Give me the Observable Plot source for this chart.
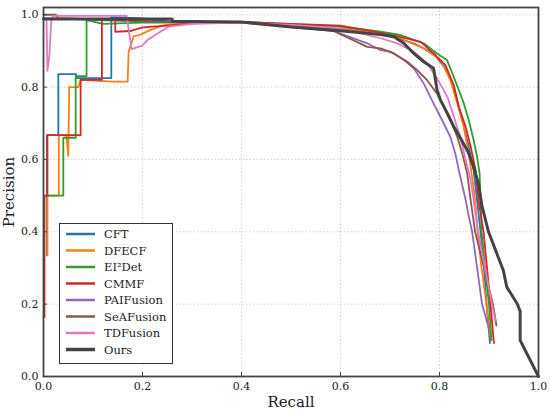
<!DOCTYPE html>
<html>
<head>
<meta charset="utf-8">
<script src="https://cdn.jsdelivr.net/npm/d3@7"></script>
<script src="https://cdn.jsdelivr.net/npm/@observablehq/plot@0.6"></script>
<style>
  html, body { margin: 0; padding: 0; background: #fff; }
</style>
</head>
<body>
<div id="chart"></div>
<script>
const seriesNames = ["CFT", "DFECF", "EI²Det", "CMMF", "PAIFusion", "SeAFusion", "TDFusion", "Ours"];
const seriesColors = ["#1f77b4", "#ff7f0e", "#2ca02c", "#d62728", "#9467bd", "#8c564b", "#e377c2", "#444444"];
const xTicks = [0, 0.2, 0.4, 0.6, 0.8, 1.0];
const yTicks = [0, 0.2, 0.4, 0.6, 0.8, 1.0];

const cftR = [0.007,0.007,0.03,0.03,0.066,0.067,0.137,0.137,0.2,0.25,0.32,0.4,0.5,0.6,0.68,0.748,0.788,0.815,0.832,0.846,0.859,0.869,0.876,0.883,0.89,0.895,0.902];
const cftP = [0.335,0.667,0.667,0.836,0.836,0.825,0.825,0.993,0.99,0.982,0.978,0.98,0.972,0.962,0.949,0.921,0.893,0.847,0.782,0.709,0.635,0.570,0.487,0.4,0.3,0.2,0.092];

const dfecfR = [0.008,0.008,0.031,0.031,0.046,0.05,0.052,0.07,0.075,0.14,0.17,0.172,0.182,0.196,0.216,0.243,0.32,0.4,0.5,0.6,0.681,0.721,0.768,0.802,0.822,0.836,0.849,0.859,0.866,0.872,0.877,0.885,0.895,0.904];
const dfecfP = [0.335,0.5,0.5,0.667,0.667,0.61,0.80,0.80,0.82,0.815,0.815,0.898,0.94,0.945,0.958,0.971,0.978,0.98,0.972,0.965,0.949,0.935,0.907,0.875,0.819,0.755,0.690,0.616,0.55,0.487,0.4,0.3,0.2,0.1];

const ei2detR = [0.004,0.04,0.04,0.065,0.065,0.072,0.072,0.087,0.087,0.12,0.2,0.3,0.4,0.5,0.6,0.681,0.721,0.768,0.795,0.815,0.826,0.839,0.849,0.859,0.869,0.876,0.881,0.883,0.885,0.892,0.9,0.905];
const ei2detP = [0.5,0.5,0.66,0.66,0.83,0.83,0.83,0.83,0.985,0.975,0.978,0.978,0.98,0.974,0.968,0.953,0.944,0.921,0.893,0.875,0.838,0.792,0.755,0.709,0.653,0.607,0.561,0.487,0.4,0.3,0.2,0.1];

const cmmfR = [0.002,0.002,0.008,0.008,0.075,0.075,0.118,0.118,0.145,0.145,0.175,0.2,0.25,0.3,0.4,0.5,0.6,0.681,0.721,0.762,0.788,0.812,0.829,0.839,0.853,0.863,0.873,0.879,0.889,0.896,0.903,0.91];
const cmmfP = [0.164,0.5,0.5,0.667,0.667,0.82,0.82,0.985,0.985,0.953,0.955,0.965,0.97,0.976,0.98,0.975,0.97,0.950,0.939,0.925,0.893,0.861,0.805,0.745,0.690,0.635,0.570,0.487,0.4,0.3,0.2,0.092];

const paiR = [0,0.05,0.1,0.2,0.3,0.4,0.5,0.586,0.6,0.654,0.681,0.701,0.728,0.748,0.768,0.788,0.805,0.822,0.832,0.842,0.853,0.858,0.866,0.876,0.886,0.9];
const paiP = [0.99,0.99,0.985,0.982,0.978,0.978,0.966,0.955,0.948,0.921,0.902,0.898,0.875,0.852,0.810,0.755,0.709,0.662,0.616,0.552,0.487,0.45,0.4,0.3,0.2,0.132];

const seaR = [0,0.025,0.03,0.1,0.2,0.3,0.4,0.5,0.586,0.6,0.654,0.681,0.708,0.735,0.755,0.775,0.795,0.809,0.822,0.836,0.846,0.856,0.863,0.872,0.89,0.908,0.915];
const seaP = [1.0,1.0,0.99,0.988,0.982,0.978,0.978,0.97,0.955,0.946,0.911,0.907,0.893,0.870,0.847,0.819,0.782,0.745,0.709,0.662,0.616,0.561,0.487,0.4,0.3,0.2,0.141];

const tdR = [0,0.006,0.008,0.012,0.016,0.02,0.168,0.178,0.2,0.21,0.236,0.253,0.3,0.4,0.5,0.6,0.681,0.715,0.748,0.775,0.795,0.816,0.829,0.842,0.853,0.863,0.869,0.878,0.892,0.906,0.913];
const tdP = [0.99,0.99,0.845,0.89,0.99,0.997,0.997,0.905,0.915,0.93,0.953,0.967,0.975,0.978,0.972,0.962,0.935,0.921,0.898,0.866,0.824,0.773,0.718,0.662,0.598,0.542,0.487,0.4,0.3,0.2,0.155];

const oursR = [0,0.26,0.26,0.4,0.5,0.6,0.681,0.708,0.728,0.748,0.768,0.788,0.792,0.795,0.802,0.816,0.829,0.842,0.858,0.87,0.879,0.886,0.899,0.913,0.929,0.936,0.957,0.963,0.963,1.0];
const oursP = [0.988,0.988,0.982,0.98,0.966,0.956,0.945,0.939,0.921,0.893,0.870,0.852,0.819,0.792,0.764,0.727,0.690,0.66,0.62,0.575,0.53,0.47,0.4,0.35,0.293,0.247,0.201,0.18,0.10,0.0];

const seriesR = [cftR, dfecfR, ei2detR, cmmfR, paiR, seaR, tdR, oursR];
const seriesP = [cftP, dfecfP, ei2detP, cmmfP, paiP, seaP, tdP, oursP];

const tables = seriesNames.map((name, i) =>
  seriesR[i].map((r, j) => ({series: name, recall: r, precision: seriesP[i][j]}))
);

const lineMarks = tables.map((t, i) =>
  Plot.line(t, {
    x: "recall", y: "precision", stroke: "series",
    strokeWidth: seriesNames[i] === "Ours" ? 3 : 1.8,
    strokeLinejoin: "round"
  })
);

const plot = Plot.plot({
  width: 550,
  height: 412,
  marginLeft: 43,
  marginRight: 12,
  marginTop: 7,
  marginBottom: 36,
  style: {fontFamily: "'DejaVu Serif', serif", fontSize: "11px", background: "#fff", color: "#222"},
  x: {domain: [0, 1]},
  y: {domain: [0, 1.02]},
  color: {domain: seriesNames, range: seriesColors},
  marks: [
    Plot.gridX(xTicks, {stroke: "#b8b8b8", strokeOpacity: 0.8, strokeDasharray: "1.5,2", strokeWidth: 0.8}),
    Plot.gridY(yTicks, {stroke: "#b8b8b8", strokeOpacity: 0.8, strokeDasharray: "1.5,2", strokeWidth: 0.8}),
    ...lineMarks,
    Plot.frame({stroke: "#444", strokeWidth: 1.8}),
    Plot.axisX(xTicks, {tickSize: -4, tickPadding: 9.5, tickFormat: d3.format(".1f"), label: null, stroke: "#444", fill: "#222"}),
    Plot.axisY(yTicks, {tickSize: -4, tickPadding: 9, tickFormat: d3.format(".1f"), label: null, stroke: "#444", fill: "#222"}),
    Plot.text(["Recall"], {text: d => d, frameAnchor: "bottom", dy: 30, fontSize: 15, fill: "#222"}),
    Plot.text(["Precision"], {text: d => d, frameAnchor: "left", textAnchor: "middle", dx: -34, rotate: -90, fontSize: 15, fill: "#222"})
  ]
});

// legend inside the plot area (bottom-left)
const svg = d3.select(plot);
const lg = svg.append("g")
  .attr("font-family", "'DejaVu Serif', serif")
  .attr("font-size", "11.5px")
  .attr("text-anchor", "start");
lg.append("rect").attr("x", 59.5).attr("y", 223.5).attr("width", 113).attr("height", 140)
  .attr("fill", "#fff").attr("fill-opacity", 0.85).attr("stroke", "#333").attr("stroke-width", 1);
seriesNames.forEach((name, i) => {
  const yy = 234 + i * 16.5;
  lg.append("line").attr("x1", 66).attr("x2", 95).attr("y1", yy).attr("y2", yy)
    .attr("stroke", seriesColors[i]).attr("stroke-width", name === "Ours" ? 3.5 : 2.5);
  lg.append("text").attr("x", 104).attr("y", yy).attr("dy", "0.35em")
    .attr("text-anchor", "start").attr("fill", "#222").text(name);
});

document.getElementById("chart").appendChild(plot);
</script>
</body>
</html>
